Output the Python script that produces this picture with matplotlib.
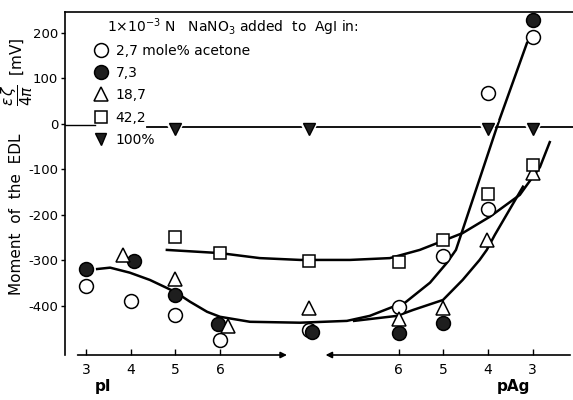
import matplotlib.pyplot as plt
import matplotlib.patheffects as pe

# one shared x axis: pI on the left (3..6), pAg on the right stored as 16 - pAg
# (pAg 6 -> 10 ... pAg 3 -> 13), the middle points sit in the break at 8
tick_pos = [3, 4, 5, 6, 10, 11, 12, 13]
tick_lab = ['3', '4', '5', '6', '6', '5', '4', '3']
ytick_pos = [200, 100, 0, -100, -200, -300, -400]

# measured points, one series per acetone content
x_27 = [3, 4, 5, 6, 8, 10, 11, 12, 12, 13]
y_27 = [-356, -389, -420, -475, -453, -402, -291, -187, 68, 191]
x_73 = [3, 4.07, 5, 5.95, 8.05, 10, 11, 13]
y_73 = [-319, -301, -376, -440, -457, -459, -437, 229]
x_187 = [3.83, 5, 6.17, 8, 10, 11, 11.98, 13]
y_187 = [-288, -341, -444, -404, -428, -404, -255, -108]
x_422 = [5, 6, 8, 10, 11, 12, 13]
y_422 = [-249, -283, -301, -303, -255, -154, -90]
x_100 = [5, 8, 12, 13]
y_100 = [-12, -12, -12, -12]

# hand drawn curves
c1_x = [3.25, 3.54, 3.98, 4.43, 4.99, 5.33, 5.71, 6.0, 6.67, 7.79, 8.84, 9.35,
        9.87, 10.14, 10.7, 11.08, 11.28, 11.43, 12.22, 12.87]
c1_y = [-319, -316, -327, -343, -369, -391, -413, -424, -435, -437, -433, -422,
        -402, -393, -349, -305, -277, -233, 0, 178]
c2_x = [9.0, 9.96, 10.32, 10.99, 11.43, 11.81, 11.97, 12.15, 12.78]
c2_y = [-433, -422, -409, -387, -343, -299, -277, -244, -138]
c3_x = [4.81, 6.0, 6.89, 7.79, 8.91, 9.8, 10.47, 10.99, 11.43, 12.04, 12.71,
        12.87, 13.16, 13.38]
c3_y = [-277, -284, -295, -299, -299, -295, -277, -257, -240, -204, -156,
        -134, -95, -40]

labels = ['2,7 mole% acetone', '7,3', '18,7', '42,2', '100%']

plt.rcParams['font.family'] = ['DejaVu Sans']

fig = plt.figure(figsize=(5.73, 4.0), dpi=100)
ax = fig.add_axes([65 / 573, 1 - 355 / 400, 1 - 65 / 573, (355 - 12) / 400])
ax.set_xlim(2.53, 13.9)
ax.set_ylim(-508, 246)

# curves
for cx, cy in [(c1_x, c1_y), (c2_x, c2_y), (c3_x, c3_y)]:
    ax.plot(cx, cy, color='k', lw=1.8, zorder=2)

# zero line, broken for the legend
ax.axhline(-3, xmin=0, xmax=(95 - 65) / 508, color='k', lw=1.0, zorder=1)
ax.axhline(-7, xmin=(147 - 65) / 508, xmax=1, color='k', lw=1.3, zorder=1)

halo = [pe.withStroke(linewidth=4, foreground='white')]
h1, = ax.plot(x_27, y_27, 'o', ms=10, mfc='white', mec='k', mew=1.1, zorder=4)
h2, = ax.plot(x_73, y_73, 'o', ms=10, mfc='#1e1e1e', mec='k', mew=1.1, zorder=4)
h3, = ax.plot(x_187, y_187, '^', ms=9.5, mfc='white', mec='k', mew=1.1, zorder=4)
h4, = ax.plot(x_422, y_422, 's', ms=8.5, mfc='white', mec='k', mew=1.1, zorder=4)
h5, = ax.plot(x_100, y_100, 'v', ms=8.5, mfc='#1e1e1e', mec='k', mew=1.0,
              zorder=4, path_effects=halo)

leg = ax.legend([h1, h2, h3, h4, h5], labels, loc='upper left',
                bbox_to_anchor=((88 - 65) / 508, (355 - 38) / 343),
                frameon=False, fontsize=10, handlelength=1.0,
                handletextpad=0.6, labelspacing=0.6, borderaxespad=0)

fig.text(107 / 573, 1 - 27 / 400,
         r'1$\times$10$^{-3}$ N   NaNO$_3$ added  to  AgI in:',
         fontsize=10, ha='left', va='center')

# axes look
ax.spines['right'].set_visible(False)
ax.spines['bottom'].set_visible(False)
ax.spines['top'].set_linewidth(1.2)
ax.spines['left'].set_linewidth(1.2)
ax.set_yticks(ytick_pos, [str(v) for v in ytick_pos])
ax.set_xticks(tick_pos, tick_lab)
ax.tick_params(axis='y', direction='out', length=3, width=1, labelsize=9.5, pad=2)
ax.tick_params(axis='x', direction='in', length=4, width=1, labelsize=10, pad=6)

# broken x axis drawn as two arrows
ax.annotate('', xy=(7.56, -508), xytext=(2.75, -508), annotation_clip=False,
            arrowprops=dict(arrowstyle='-|>', lw=1.2, color='k', mutation_scale=9))
ax.annotate('', xy=(8.3, -508), xytext=(13.9, -508), annotation_clip=False,
            arrowprops=dict(arrowstyle='-|>', lw=1.2, color='k', mutation_scale=9))

fig.text(103 / 573, 1 - 387 / 400, 'pI', fontsize=11, fontweight='bold',
         ha='center', va='center')
fig.text(513 / 573, 1 - 387 / 400, 'pAg', fontsize=11, fontweight='bold',
         ha='center', va='center')

fig.text(17 / 573, 1 - 214 / 400, 'Moment  of  the  EDL', fontsize=11,
         rotation=90, ha='center', va='center')
fig.text(17 / 573, 1 - 72 / 400, r'$\dfrac{\epsilon\,\zeta}{4\pi}$  [mV]',
         fontsize=11, rotation=90, ha='center', va='center')

fig.savefig('out.png', dpi=100)
